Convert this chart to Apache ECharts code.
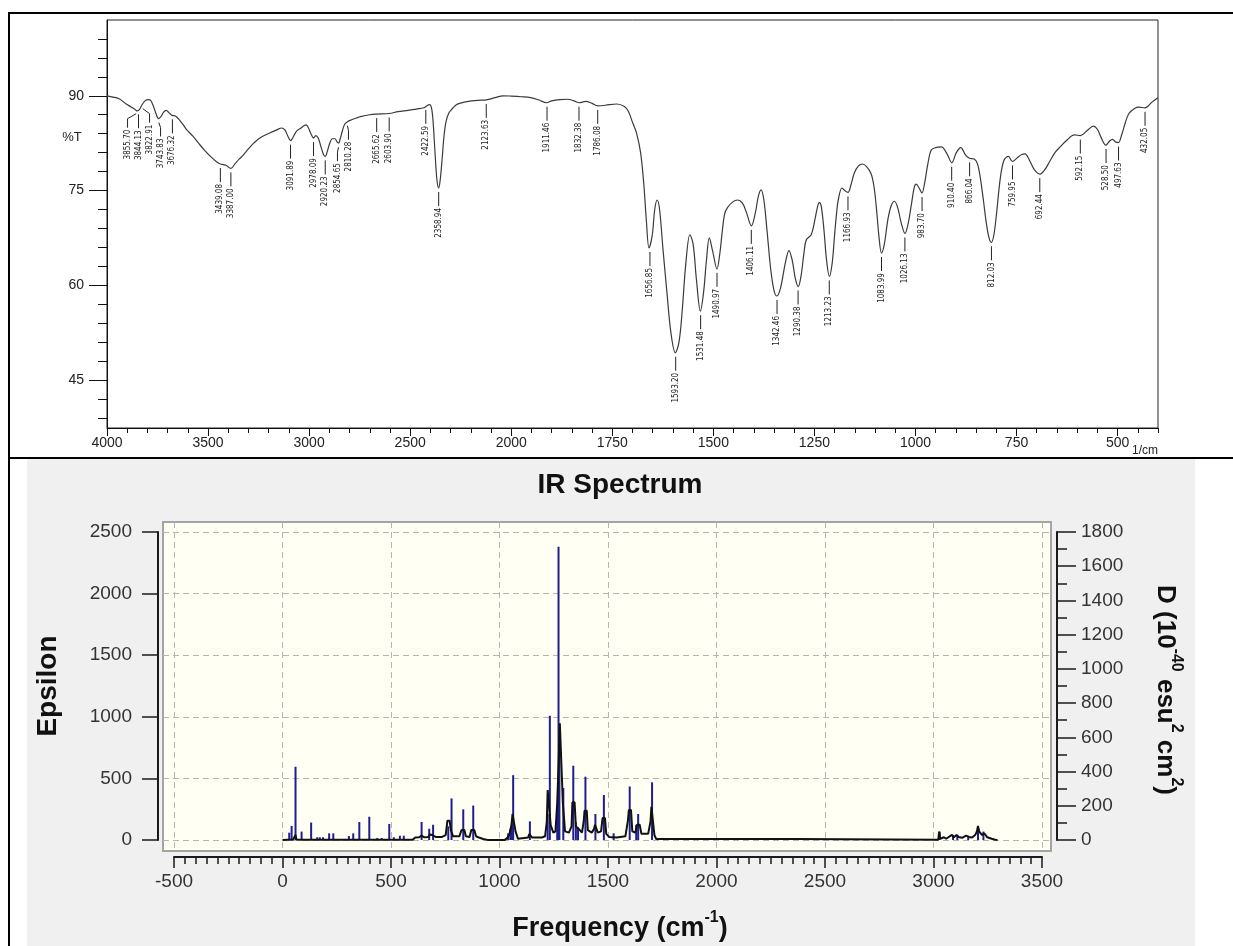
<!DOCTYPE html>
<html><head><meta charset="utf-8">
<script src="https://cdn.jsdelivr.net/npm/echarts@6/dist/echarts.min.js"></script>
<style>html,body{margin:0;padding:0;background:#fff}#c{width:1233px;height:946px}</style>
</head><body><div id="c"></div>
<script>
// ---------- Top panel: FTIR spectrum (%T vs wavenumber, 1/cm) ----------
const ftirWavenumber = [4000,3970,3938,3905,3879,3860,3850,3840,3828,3812,3795,3785,3772,3758,3745,3733,3720,3707,3693,3678,3662,3645,3625,3605,3575,3547,3518,3488,3460,3439,3412,3387,3365,3345,3332,3303,3274,3240,3195,3160,3136,3120,3105,3092,3080,3062,3040,3024,3014,3003,2990,2978,2967,2955,2942,2930,2920,2910,2898,2885,2872,2862,2854,2846,2835,2824,2810,2790,2765,2746,2700,2665,2604,2560,2510,2470,2432,2418,2405,2396,2388,2378,2368,2359,2351,2342,2332,2322,2308,2296,2275,2256,2196,2150,2123,2080,2040,2000,1975,1952,1930,1913,1900,1880,1860,1845,1832,1816,1800,1786,1767,1739,1720,1710,1700,1690,1680,1672,1666,1659,1651,1645,1639,1633,1625,1615,1605,1594,1585,1577,1568,1558,1550,1542,1532,1524,1517,1510,1502,1491,1484,1478,1472,1465,1452,1440,1428,1418,1406,1396,1389,1382,1375,1367,1358,1350,1343,1334,1322,1313,1305,1297,1290,1283,1276,1270,1258,1250,1242,1238,1233,1226,1220,1213,1206,1200,1195,1191,1182,1175,1167,1160,1151,1141,1131,1121,1110,1103,1097,1090,1084,1077,1068,1060,1052,1044,1035,1026,1018,1010,1003,998,991,984,977,970,961,950,936,922,910,899,888,876,866,855,847,840,832,825,818,812,806,800,790,781,770,760,748,737,729,718,706,692,680,668,655,642,625,607,592,575,560,550,540,529,520,513,505,498,490,482,472,458,447,432,415,400];
const ftirTransmittance = [90.0,89.8,89.5,88.7,88.2,87.8,87.6,87.8,88.5,89.2,89.4,89.3,88.5,87.2,86.4,86.7,87.4,87.7,87.3,86.9,86.8,86.3,85.5,84.6,83.6,82.5,81.4,80.4,79.6,79.2,79.0,78.5,79.3,80.0,80.4,81.5,82.5,83.4,84.1,84.6,84.9,84.6,83.6,82.9,83.4,84.4,84.9,85.3,85.4,84.9,83.9,83.3,83.7,83.3,82.0,80.8,80.4,81.2,82.5,83.2,83.2,82.7,82.5,83.2,84.5,85.5,85.9,86.2,86.5,86.7,87.0,87.1,87.2,87.5,87.7,87.9,88.1,88.4,88.6,88.3,86.5,81.5,76.8,75.4,76.8,80.0,83.8,86.0,87.3,87.8,88.5,88.8,89.2,89.3,89.35,89.7,90.0,89.95,89.85,89.7,89.3,88.9,89.2,89.4,89.45,89.2,88.9,89.1,88.8,88.4,88.5,88.7,88.3,87.5,85.8,84.1,81.0,76.0,70.5,65.9,68.0,72.0,73.5,72.0,66.0,59.0,52.5,49.3,51.0,56.0,63.5,68.0,66.5,61.0,55.9,59.0,64.0,67.5,65.5,62.6,65.0,68.5,71.3,72.3,73.2,73.5,73.0,71.5,69.4,71.5,74.0,75.1,73.5,68.5,62.5,59.2,58.3,59.5,63.5,65.5,64.0,61.0,59.8,61.5,65.0,67.2,68.0,70.0,72.5,73.1,72.5,68.5,64.0,61.4,63.5,68.0,71.5,73.5,75.4,75.0,74.7,75.8,77.8,78.9,79.2,78.8,77.7,75.8,72.5,67.5,65.1,66.5,70.5,72.6,73.3,72.3,69.8,68.2,69.8,72.8,75.5,76.0,75.4,74.6,76.3,79.0,81.4,81.8,81.9,80.8,79.4,81.0,81.8,80.6,80.1,80.0,79.3,77.2,73.5,70.0,67.5,66.8,68.0,71.0,77.0,79.8,80.4,79.6,80.2,80.7,80.8,79.8,78.3,77.6,78.3,79.6,81.0,81.9,83.0,83.8,83.7,84.5,85.2,84.7,83.3,82.2,82.8,83.1,82.7,82.6,83.8,85.5,87.2,88.0,88.2,88.1,89.0,89.7];
const peakWavenumbers = [3855.70,3844.13,3822.91,3743.83,3676.32,3439.08,3387.00,3091.89,2978.09,2920.23,2854.65,2810.28,2665.62,2603.90,2422.59,2358.94,2123.63,1911.46,1832.38,1786.08,1656.85,1593.20,1531.48,1490.97,1406.11,1342.46,1290.38,1213.23,1166.93,1083.99,1026.13,983.70,910.40,866.04,812.03,759.95,692.44,592.15,528.50,497.63,432.05];
const peakTransmittance = [87.8,87.7,88.6,86.4,86.9,79.2,78.5,82.9,83.3,80.4,82.5,85.9,87.1,87.2,88.4,75.4,89.35,88.9,88.9,88.4,65.9,49.3,55.9,62.6,69.4,58.3,59.8,61.4,74.7,65.1,68.2,74.6,79.4,80.1,66.8,79.6,77.6,83.7,82.2,82.6,88.1];
const topXTickLabels = [4000,3500,3000,2500,2000,1750,1500,1250,1000,750,500];
const topYTickLabels = [45,60,75,90];

// ---------- Bottom panel: computed IR spectrum ----------
const irFrequency = [0,25,31,36,42,48,56,60,64,85,88,92,128,132,136,350,354,358,396,400,404,488,492,496,600,612,630,641,652,672,680,690,697,706,735,752,760,770,776,786,815,825,838,845,862,870,884,892,905,925,945,1025,1035,1045,1055,1060,1068,1074,1085,1105,1132,1137,1145,1150,1195,1210,1218,1222,1230,1236,1248,1258,1266,1274,1278,1287,1292,1302,1320,1332,1336,1346,1352,1365,1380,1388,1392,1402,1407,1425,1436,1440,1448,1453,1468,1475,1486,1492,1505,1540,1580,1592,1596,1606,1612,1626,1634,1646,1654,1685,1696,1700,1709,1714,1722,2368,2372,3022,3026,3031,3048,3058,3085,3094,3106,3116,3132,3150,3162,3178,3192,3200,3205,3211,3224,3234,3248,3268,3285,3295];
const irEpsilon = [0,2,8,2,15,2,5,40,5,2,8,2,2,15,2,2,12,2,2,15,2,2,10,2,2,20,22,35,22,25,45,40,50,25,25,40,157,157,80,30,30,81,81,30,25,81,81,30,20,8,1,1,15,45,120,211,211,70,10,15,20,49,49,20,20,30,150,406,406,120,60,70,300,700,947,947,300,70,60,110,306,306,110,90,60,150,238,238,80,60,90,124,124,60,70,178,178,50,25,20,30,160,243,243,70,60,124,124,50,50,150,270,270,40,8,8,2,2,68,10,22,10,41,22,41,25,18,35,25,20,40,70,114,68,40,55,22,10,2,0];
const stickFrequency = [31,42,60,88,132,160,172,187,215,234,306,326,354,400,437,457,492,513,541,559,641,676,694,764,779,833,879,1040,1050,1057,1063,1140,1222,1232,1266,1272,1276,1294,1340,1352,1362,1396,1442,1481,1526,1600,1630,1639,1703,3028,3090,3110,3160,3205,3230];
const stickD = [43,82,428,49,102,16,16,16,39,39,23,39,105,136,12,12,94,16,25,25,105,66,89,80,243,179,201,39,64,94,379,109,152,726,190,1714,512,304,434,103,74,370,152,263,39,313,89,152,337,49,30,30,25,82,49];

// piecewise wavenumber scale (4000-2000 compressed 2x, 2000-400 expanded)
function toPos(w) { return w >= 2000 ? (4000 - w) / 2 : 1000 + (2000 - w); }
function fromPos(p) { return p <= 1000 ? 4000 - 2 * p : 2000 - (p - 1000); }

const FONT = "'Liberation Sans', Arial, sans-serif";
const NARROW = "'Liberation Sans Narrow', 'DejaVu Sans Condensed', sans-serif";

const topMinorX = []; for (let p = 0; p <= 2600; p += 50) topMinorX.push(p);
const topMinorY = []; for (let v = 39; v <= 99; v += 3) topMinorY.push(v);

let labelX = null;
function layoutPeakLabels(api) {
  const pts = peakWavenumbers.map((w, i) => {
    const c = api.coord([toPos(w), peakTransmittance[i]]);
    return { i: i, x: c[0] };
  }).sort((a, b) => a.x - b.x);
  const gap = 11;
  const clusters = [];
  pts.forEach(p => {
    clusters.push({ items: [p], sum: p.x });
    while (clusters.length > 1) {
      const c = clusters[clusters.length - 1], pr = clusters[clusters.length - 2];
      const cStart = c.sum / c.items.length - (c.items.length - 1) * gap / 2;
      const pEnd = pr.sum / pr.items.length + (pr.items.length - 1) * gap / 2;
      if (cStart - pEnd < gap) { pr.items = pr.items.concat(c.items); pr.sum += c.sum; clusters.pop(); }
      else break;
    }
  });
  const out = [];
  clusters.forEach(c => {
    const n = c.items.length, center = c.sum / n;
    c.items.forEach((p, k) => { out[p.i] = center + (k - (n - 1) / 2) * gap; });
  });
  return out;
}

const chart = echarts.init(document.getElementById('c'), null, { renderer: 'canvas' });
const hiddenAxis = (gi) => ({ gridIndex: gi, type: 'value', show: false, min: 0, max: 1 });
const plain = v => String(v);

const option = {
  animation: false,
  backgroundColor: '#ffffff',
  grid: [
    { left: 107, top: 20, width: 1051, height: 408, show: true, borderColor: '#222', borderWidth: 1, backgroundColor: 'transparent' },
    { left: 163, top: 522, width: 888, height: 329, show: true, borderColor: '#a4a4a4', borderWidth: 2, backgroundColor: '#fffff4', z: 1 },
    { left: 163, top: 532, width: 888, height: 308 },
    { left: 174, top: 522, width: 868, height: 329 },
    { left: 174, top: 532, width: 868, height: 308 }
  ],
  xAxis: [
    { gridIndex: 0, type: 'value', min: 0, max: 2600, position: 'bottom',
      axisLine: { show: true, onZero: false, lineStyle: { color: '#111', width: 1 } },
      axisTick: { show: true, customValues: topXTickLabels.map(toPos), length: 8, lineStyle: { color: '#111' } },
      axisLabel: { show: true, customValues: topXTickLabels.map(toPos), formatter: v => String(Math.round(fromPos(v))), margin: 8, fontFamily: FONT, fontSize: 14, color: '#222' },
      splitLine: { show: false } },
    { gridIndex: 0, type: 'value', min: 0, max: 2600, position: 'bottom',
      axisLine: { show: false, onZero: false },
      axisTick: { show: true, customValues: topMinorX, length: 5, lineStyle: { color: '#111' } },
      axisLabel: { show: false }, splitLine: { show: false } },
    hiddenAxis(1),
    hiddenAxis(2),
    { gridIndex: 3, type: 'value', min: -500, max: 3500, interval: 500, z: 2,
      axisLine: { show: false, onZero: false }, axisTick: { show: false }, axisLabel: { show: false },
      splitLine: { show: true, lineStyle: { color: '#b5b5b5', width: 1, type: [6, 4] } } },
    { gridIndex: 4, type: 'value', min: -500, max: 3500, interval: 500, offset: 17, z: 3,
      axisLine: { show: true, onZero: false, lineStyle: { color: '#1a1a1a', width: 2 } },
      axisTick: { show: true, length: 11, lineStyle: { color: '#1a1a1a', width: 1.5 } },
      minorTick: { show: true, splitNumber: 10, length: 7, lineStyle: { color: '#1a1a1a', width: 1.5 } },
      axisLabel: { margin: 15, formatter: plain, fontFamily: FONT, fontSize: 19, color: '#333' },
      splitLine: { show: false } }
  ],
  yAxis: [
    { gridIndex: 0, type: 'value', min: 37.4, max: 102, position: 'left',
      axisLine: { show: true, onZero: false, lineStyle: { color: '#111', width: 1 } },
      axisTick: { show: true, customValues: topYTickLabels, length: 18, lineStyle: { color: '#111' } },
      axisLabel: { show: true, customValues: topYTickLabels, margin: 23, formatter: plain, fontFamily: FONT, fontSize: 14, color: '#222' },
      splitLine: { show: false } },
    { gridIndex: 0, type: 'value', min: 37.4, max: 102, position: 'left',
      axisLine: { show: false, onZero: false },
      axisTick: { show: true, customValues: topMinorY, length: 9, lineStyle: { color: '#111' } },
      axisLabel: { show: false }, splitLine: { show: false } },
    hiddenAxis(1),
    { gridIndex: 2, type: 'value', min: 0, max: 2500, interval: 500, z: 2,
      axisLine: { show: false, onZero: false }, axisTick: { show: false }, axisLabel: { show: false },
      splitLine: { show: true, lineStyle: { color: '#b5b5b5', width: 1, type: [6, 4] } } },
    hiddenAxis(3),
    { gridIndex: 4, type: 'value', min: 0, max: 2500, interval: 500, position: 'left', offset: 16, z: 3,
      axisLine: { show: true, onZero: false, lineStyle: { color: '#1a1a1a', width: 2 } },
      axisTick: { show: true, length: 16, lineStyle: { color: '#1a1a1a', width: 1.5 } },
      axisLabel: { margin: 26, formatter: plain, fontFamily: FONT, fontSize: 19, color: '#333' },
      splitLine: { show: false } },
    { gridIndex: 4, type: 'value', min: 0, max: 1800, interval: 200, position: 'right', offset: 15, z: 3,
      axisLine: { show: true, onZero: false, lineStyle: { color: '#1a1a1a', width: 2 } },
      axisTick: { show: true, length: 19, lineStyle: { color: '#1a1a1a', width: 1.5 } },
      minorTick: { show: true, splitNumber: 2, length: 10, lineStyle: { color: '#1a1a1a', width: 1.5 } },
      axisLabel: { margin: 24, formatter: plain, fontFamily: FONT, fontSize: 19, color: '#333' },
      splitLine: { show: false } }
  ],
  series: [
    { name: 'FTIR', type: 'line', xAxisIndex: 0, yAxisIndex: 0, z: 4,
      data: ftirWavenumber.map((w, i) => [toPos(w), ftirTransmittance[i]]),
      symbol: 'none', smooth: 0.35, lineStyle: { color: '#3a3a3a', width: 1.2 } },
    { name: 'peaks', type: 'custom', xAxisIndex: 0, yAxisIndex: 0, z: 5,
      data: peakWavenumbers.map((w, i) => [toPos(w), peakTransmittance[i]]),
      renderItem: function (params, api) {
        if (params.dataIndex === 0 || !labelX) labelX = layoutPeakLabels(api);
        const i = params.dataIndex;
        const c = api.coord([api.value(0), api.value(1)]);
        const lx = labelX[i];
        const y0 = c[1] + 4;
        const pts = Math.abs(lx - c[0]) > 0.8 ? [[c[0], y0], [lx, y0 + 5], [lx, y0 + 14]] : [[c[0], y0], [c[0], y0 + 14]];
        return { type: 'group', children: [
          { type: 'polyline', shape: { points: pts }, style: { stroke: '#222', lineWidth: 1, fill: null } },
          { type: 'text', x: lx, y: y0 + 16, rotation: Math.PI / 2,
            style: { text: peakWavenumbers[i].toFixed(2), align: 'right', verticalAlign: 'middle', fontSize: 8, fontFamily: NARROW, fill: '#222' } }
        ] };
      } },
    { name: 'D', type: 'bar', xAxisIndex: 5, yAxisIndex: 6, z: 4, barWidth: 2,
      data: stickFrequency.map((f, i) => [f, stickD[i]]),
      itemStyle: { color: '#1e1e90' } },
    { name: 'Epsilon', type: 'line', xAxisIndex: 5, yAxisIndex: 5, z: 5,
      data: irFrequency.map((f, i) => [f, irEpsilon[i]]),
      symbol: 'none', lineStyle: { color: '#111', width: 2 } }
  ],
  graphic: [
    { type: 'rect', z: -10, shape: { x: 27, y: 459, width: 1168, height: 487 }, style: { fill: '#f0f0f0' } },
    { type: 'line', z: 10, shape: { x1: 8, y1: 13, x2: 1233, y2: 13 }, style: { stroke: '#000', lineWidth: 2 } },
    { type: 'line', z: 10, shape: { x1: 9, y1: 12, x2: 9, y2: 946 }, style: { stroke: '#000', lineWidth: 2 } },
    { type: 'line', z: 10, shape: { x1: 8, y1: 458, x2: 1233, y2: 458 }, style: { stroke: '#000', lineWidth: 2 } },
    { type: 'text', z: 10, x: 72, y: 137, style: { text: '%T', align: 'center', verticalAlign: 'middle', fontFamily: FONT, fontSize: 13, fill: '#222' } },
    { type: 'text', z: 10, x: 1158, y: 451, style: { text: '1/cm', align: 'right', verticalAlign: 'middle', fontFamily: FONT, fontSize: 12, fill: '#222' } },
    { type: 'text', z: 10, x: 620, y: 485, style: { text: 'IR Spectrum', align: 'center', verticalAlign: 'middle', fontFamily: FONT, fontSize: 28, fontWeight: 'bold', fill: '#111' } },
    { type: 'text', z: 10, x: 620, y: 926, style: {
        text: '{n|Frequency (cm}{s|-1}{n|)}', align: 'center', verticalAlign: 'middle',
        rich: { n: { fontFamily: FONT, fontSize: 27, fontWeight: 'bold', fill: '#111', lineHeight: 32, verticalAlign: 'bottom' },
                s: { fontFamily: FONT, fontSize: 16, fontWeight: 'bold', fill: '#111', lineHeight: 32, verticalAlign: 'top' } } } },
    { type: 'text', z: 10, x: 48, y: 686, rotation: Math.PI / 2, style: { text: 'Epsilon', align: 'center', verticalAlign: 'middle', fontFamily: FONT, fontSize: 28, fontWeight: 'bold', fill: '#111' } },
    { type: 'text', z: 10, x: 1168, y: 690, rotation: -Math.PI / 2, style: {
        text: '{n|D (10}{s|-40}{n| esu}{s|2}{n| cm}{s|2}{n|)}', align: 'center', verticalAlign: 'middle',
        rich: { n: { fontFamily: FONT, fontSize: 26, fontWeight: 'bold', fill: '#111', lineHeight: 32, verticalAlign: 'bottom' },
                s: { fontFamily: FONT, fontSize: 16, fontWeight: 'bold', fill: '#111', lineHeight: 32, verticalAlign: 'top' } } } }
  ]
};
chart.setOption(option);
</script>
</body></html>
